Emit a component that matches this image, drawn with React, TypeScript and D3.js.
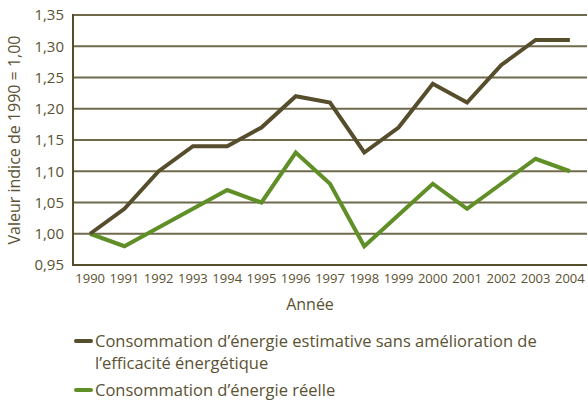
import React from "react";
import * as d3 from "d3";

const years = ["1990", "1991", "1992", "1993", "1994", "1995", "1996", "1997", "1998", "1999", "2000", "2001", "2002", "2003", "2004"];
const estimative = [1.0, 1.04, 1.1, 1.14, 1.14, 1.17, 1.22, 1.21, 1.13, 1.17, 1.24, 1.21, 1.27, 1.31, 1.31];
const reelle = [1.0, 0.98, 1.01, 1.04, 1.07, 1.05, 1.13, 1.08, 0.98, 1.03, 1.08, 1.04, 1.08, 1.12, 1.1];
const yTicks = [0.95, 1.0, 1.05, 1.1, 1.15, 1.2, 1.25, 1.3, 1.35];

const W = 588, H = 404;
const margin = { left: 73, right: 1, top: 15, bottom: 139 };
const textColor = "#5a5232";
const gridColor = "#6f6a4c";
const darkLine = "#554d2b";
const greenLine = "#5f8f26";
const font = "'Open Sans', sans-serif";

export default function App() {
  const x = d3.scalePoint<string>().domain(years).range([margin.left, W - margin.right]).padding(0.5);
  const y = d3.scaleLinear().domain([0.95, 1.35]).range([H - margin.bottom, margin.top]);
  const fmt = (v: number) => v.toFixed(2).replace(".", ",");

  const line = d3.line<number>()
    .x((_, i) => x(years[i]) as number)
    .y(d => y(d));

  return (
    <svg width={W} height={H} style={{ position: "absolute", left: 0, top: 0, background: "#fff" }} fontFamily={font}>
      {/* grid */}
      {yTicks.slice(1).map(t => (
        <line key={t} x1={margin.left} x2={W - margin.right} y1={y(t)} y2={y(t)} stroke={gridColor} strokeWidth={2} />
      ))}
      <line x1={margin.left} x2={W - margin.right} y1={y(0.95)} y2={y(0.95)} stroke={darkLine} strokeWidth={2} />
      <line x1={margin.left} x2={margin.left} y1={y(1.35) - 1} y2={y(0.95) + 1} stroke={darkLine} strokeWidth={2} />

      {/* y labels */}
      {yTicks.map(t => (
        <text key={t} x={64} y={y(t)} dy="0.35em" textAnchor="end" fontSize={15} fill={textColor}>{fmt(t)}</text>
      ))}
      <text transform={`translate(20,${(y(1.35) + y(0.95)) / 2}) rotate(-90)`} textAnchor="middle" fontSize={16} fill={textColor}>
        Valeur indice de 1990 = 1,00
      </text>

      {/* x labels */}
      {years.map(yr => (
        <text key={yr} x={x(yr)} y={283} textAnchor="middle" fontSize={13} fill={textColor}>{yr}</text>
      ))}
      <text x={310} y={310} textAnchor="middle" fontSize={16} fill={textColor}>Année</text>

      {/* lines */}
      <path d={line(reelle) ?? ""} fill="none" stroke={greenLine} strokeWidth={4} strokeLinejoin="miter" />
      <path d={line(estimative) ?? ""} fill="none" stroke={darkLine} strokeWidth={4} strokeLinejoin="miter" />

      {/* legend */}
      <line x1={76} x2={91} y1={341} y2={341} stroke={darkLine} strokeWidth={4} strokeLinecap="round" />
      <text x={95} y={347} fontSize={16.5} fill={textColor}>Consommation d’énergie estimative sans amélioration de</text>
      <text x={95} y={369} fontSize={16.5} fill={textColor}>l’efficacité énergétique</text>
      <line x1={76} x2={91} y1={390} y2={390} stroke={greenLine} strokeWidth={4} strokeLinecap="round" />
      <text x={95} y={396} fontSize={16.5} fill={textColor}>Consommation d’énergie réelle</text>
    </svg>
  );
}
